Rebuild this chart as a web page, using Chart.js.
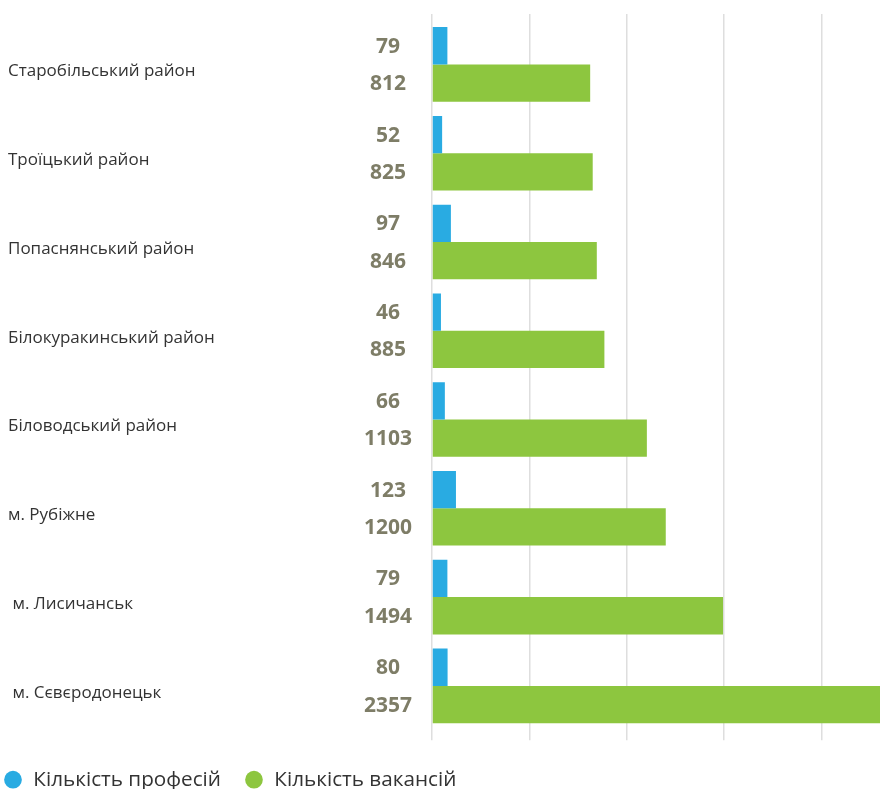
<!DOCTYPE html>
<html>
<head>
<meta charset="utf-8">
<script src="https://cdn.jsdelivr.net/npm/chart.js@4/dist/chart.umd.min.js"></script>
<style>
    html, body { margin: 0; padding: 0; background: #fff; overflow: hidden; }
    #wrap { position: relative; width: 925px; height: 800px; }
</style>
</head>
<body>
<div id="wrap"><canvas id="districtChart"></canvas></div>
<script>
const districts = [
    'Старобільський район',
    'Троїцький район',
    'Попаснянський район',
    'Білокуракинський район',
    'Біловодський район',
    'м. Рубіжне',
    ' м. Лисичанськ',
    ' м. Сєвєродонецьк'
];
const professionCounts = [79, 52, 97, 46, 66, 123, 79, 80];
const vacancyCounts = [812, 825, 846, 885, 1103, 1200, 1494, 2357];
const seriesNames = ['Кількість професій', 'Кількість вакансій'];

const FONT = '"Open Sans", "Noto Sans", sans-serif';
const gridColor = '#dedede';

// value labels sit left of the bar base, centred
const valueLabels = {
    id: 'valueLabels',
    afterDatasetsDraw(chart) {
        const { ctx } = chart;
        const baseX = chart.scales.x.getPixelForValue(0) - 44;
        ctx.save();
        ctx.font = `bold 21px ${FONT}`;
        ctx.fillStyle = '#7e7d67';
        ctx.textAlign = 'center';
        ctx.textBaseline = 'middle';
        chart.data.datasets.forEach((ds, i) => {
            chart.getDatasetMeta(i).data.forEach((bar, j) => {
                ctx.fillText(String(ds.data[j]), baseX, bar.y + 1);
            });
        });
        ctx.restore();
    }
};

// legend hugs the left edge like the original
const legendShift = {
    id: 'legendShift',
    afterLayout(chart) {
        if (chart.legend) chart.legend.left -= 28;
    }
};

new Chart(document.getElementById('districtChart'), {
    type: 'bar',
    data: {
        labels: districts,
        datasets: [
            {
                label: seriesNames[0],
                data: professionCounts,
                backgroundColor: '#29abe2',
                borderWidth: 0
            },
            {
                label: seriesNames[1],
                data: vacancyCounts,
                backgroundColor: '#8dc63f',
                borderWidth: 0
            }
        ]
    },
    options: {
        indexAxis: 'y',
        responsive: true,
        maintainAspectRatio: false,
        animation: false,
        layout: { padding: { left: 8, top: 14, right: 6, bottom: 0 } },
        datasets: {
            bar: { categoryPercentage: 0.84, barPercentage: 1 }
        },
        scales: {
            x: {
                min: 0,
                max: 2500,
                position: 'bottom',
                ticks: { display: false, stepSize: 500 },
                grid: { color: gridColor, lineWidth: 1.5, tickLength: 10 },
                border: { display: false },
                title: {
                    display: true,
                    text: '',
                    font: { size: 1, lineHeight: 1 },
                    padding: { top: 5, bottom: 0 }
                }
            },
            xTop: {
                axis: 'x',
                min: 0,
                max: 2500,
                position: 'top',
                ticks: { display: false, stepSize: 500 },
                grid: { color: gridColor, lineWidth: 1.5, tickLength: 6, drawOnChartArea: false },
                border: { display: false }
            },
            y: {
                grid: { display: false },
                border: { display: false },
                ticks: {
                    crossAlign: 'far',
                    labelOffset: 7,
                    color: '#333',
                    font: { family: FONT, size: 17 }
                },
                afterFit: (axis) => { axis.width = 424; }
            }
        },
        plugins: {
            legend: {
                position: 'bottom',
                align: 'start',
                labels: {
                    usePointStyle: true,
                    pointStyle: 'circle',
                    boxWidth: 20,
                    boxHeight: 12.5,
                    padding: 23,
                    color: '#333',
                    font: { family: FONT, size: 20.7 }
                }
            },
            tooltip: { enabled: false }
        }
    },
    plugins: [valueLabels, legendShift]
});
</script>
</body>
</html>
